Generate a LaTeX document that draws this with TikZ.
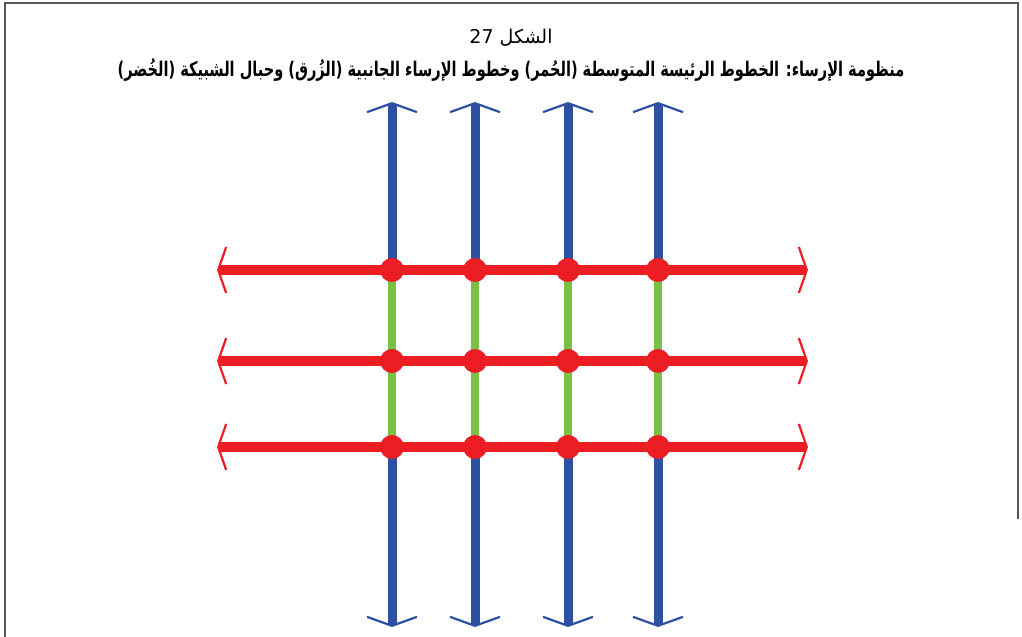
\documentclass[tikz,border=0pt]{standalone}
\usepackage{fontspec}
\TeXXeTstate=1
\newfontfamily\arabicfont[Script=Arabic]{DejaVu Sans}
\newfontfamily\arabicbf[Script=Arabic,FakeStretch=0.72]{DejaVu Sans}
\usetikzlibrary{arrows.meta}
\definecolor{mred}{RGB}{236,30,36}
\definecolor{mblue}{RGB}{46,80,162}
\definecolor{mgreen}{RGB}{122,192,67}
\definecolor{framecol}{RGB}{85,88,88}
\pgfdeclarelayer{bg}
\pgfsetlayers{bg,main}
\tikzset{
  redline/.style={draw=mred, line width=10.5bp},
  blueline/.style={draw=mblue, line width=9bp},
  greenline/.style={draw=mgreen, line width=8.5bp},
  redtip/.style={-{Straight Barb[length=8bp,width=46bp,line width=2.2bp]}},
  bluetip/.style={-{Straight Barb[length=9bp,width=50bp,line width=2.2bp]}},
  dotnode/.style={circle, fill=mred, minimum size=24bp, inner sep=0pt},
  titletext/.style={inner sep=0pt, text=black},
}
\begin{document}
\begin{tikzpicture}[x=1bp,y=-1bp]
\useasboundingbox (0,0) rectangle (1022,637);
\draw[framecol, line width=2bp] (5,637) -- (5,3) -- (1018,3) -- (1018,519);

\node[titletext, font=\arabicfont\fontsize{19bp}{22bp}\selectfont] (t1) at (511,38) {\beginR الشكل \beginL27\endL\endR};
\node[titletext, font=\arabicbf\bfseries\fontsize{20.2bp}{23bp}\selectfont] (t2) at (511,70) {\beginR منظومة الإرساء: الخطوط الرئيسة المتوسطة (الحُمر) وخطوط الإرساء الجانبية (الزُرق) وحبال الشبيكة (الخُضر)\endR};

% dots
\foreach \r/\yy in {1/270,2/361,3/447}{
  \foreach \c/\xx in {1/392,2/475,3/568,4/658}{
    \node[dotnode] (d\r\c) at (\xx,\yy) {};
  }
}
% arrow end coordinates
\foreach \r/\yy in {1/270,2/361,3/447}{
  \coordinate (l\r) at (217,\yy);
  \coordinate (e\r) at (808,\yy);
}
\foreach \c/\xx in {1/392,2/475,3/568,4/658}{
  \coordinate (u\c) at (\xx,102);
  \coordinate (w\c) at (\xx,627);
}

\begin{pgfonlayer}{bg}
\foreach \c in {1,2,3,4}{
  \draw[blueline, bluetip] (d1\c.center) -- (u\c);
  \draw[blueline, bluetip] (d3\c.center) -- (w\c);
  \draw[greenline] (d1\c.center) -- (d2\c.center);
  \draw[greenline] (d2\c.center) -- (d3\c.center);
}
\foreach \r in {1,2,3}{
  \draw[redline, redtip] (d\r1.center) -- (l\r);
  \draw[redline, redtip] (d\r4.center) -- (e\r);
  \draw[redline] (d\r1.center) -- (d\r2.center) -- (d\r3.center) -- (d\r4.center);
}
\end{pgfonlayer}
\end{tikzpicture}
\end{document}
